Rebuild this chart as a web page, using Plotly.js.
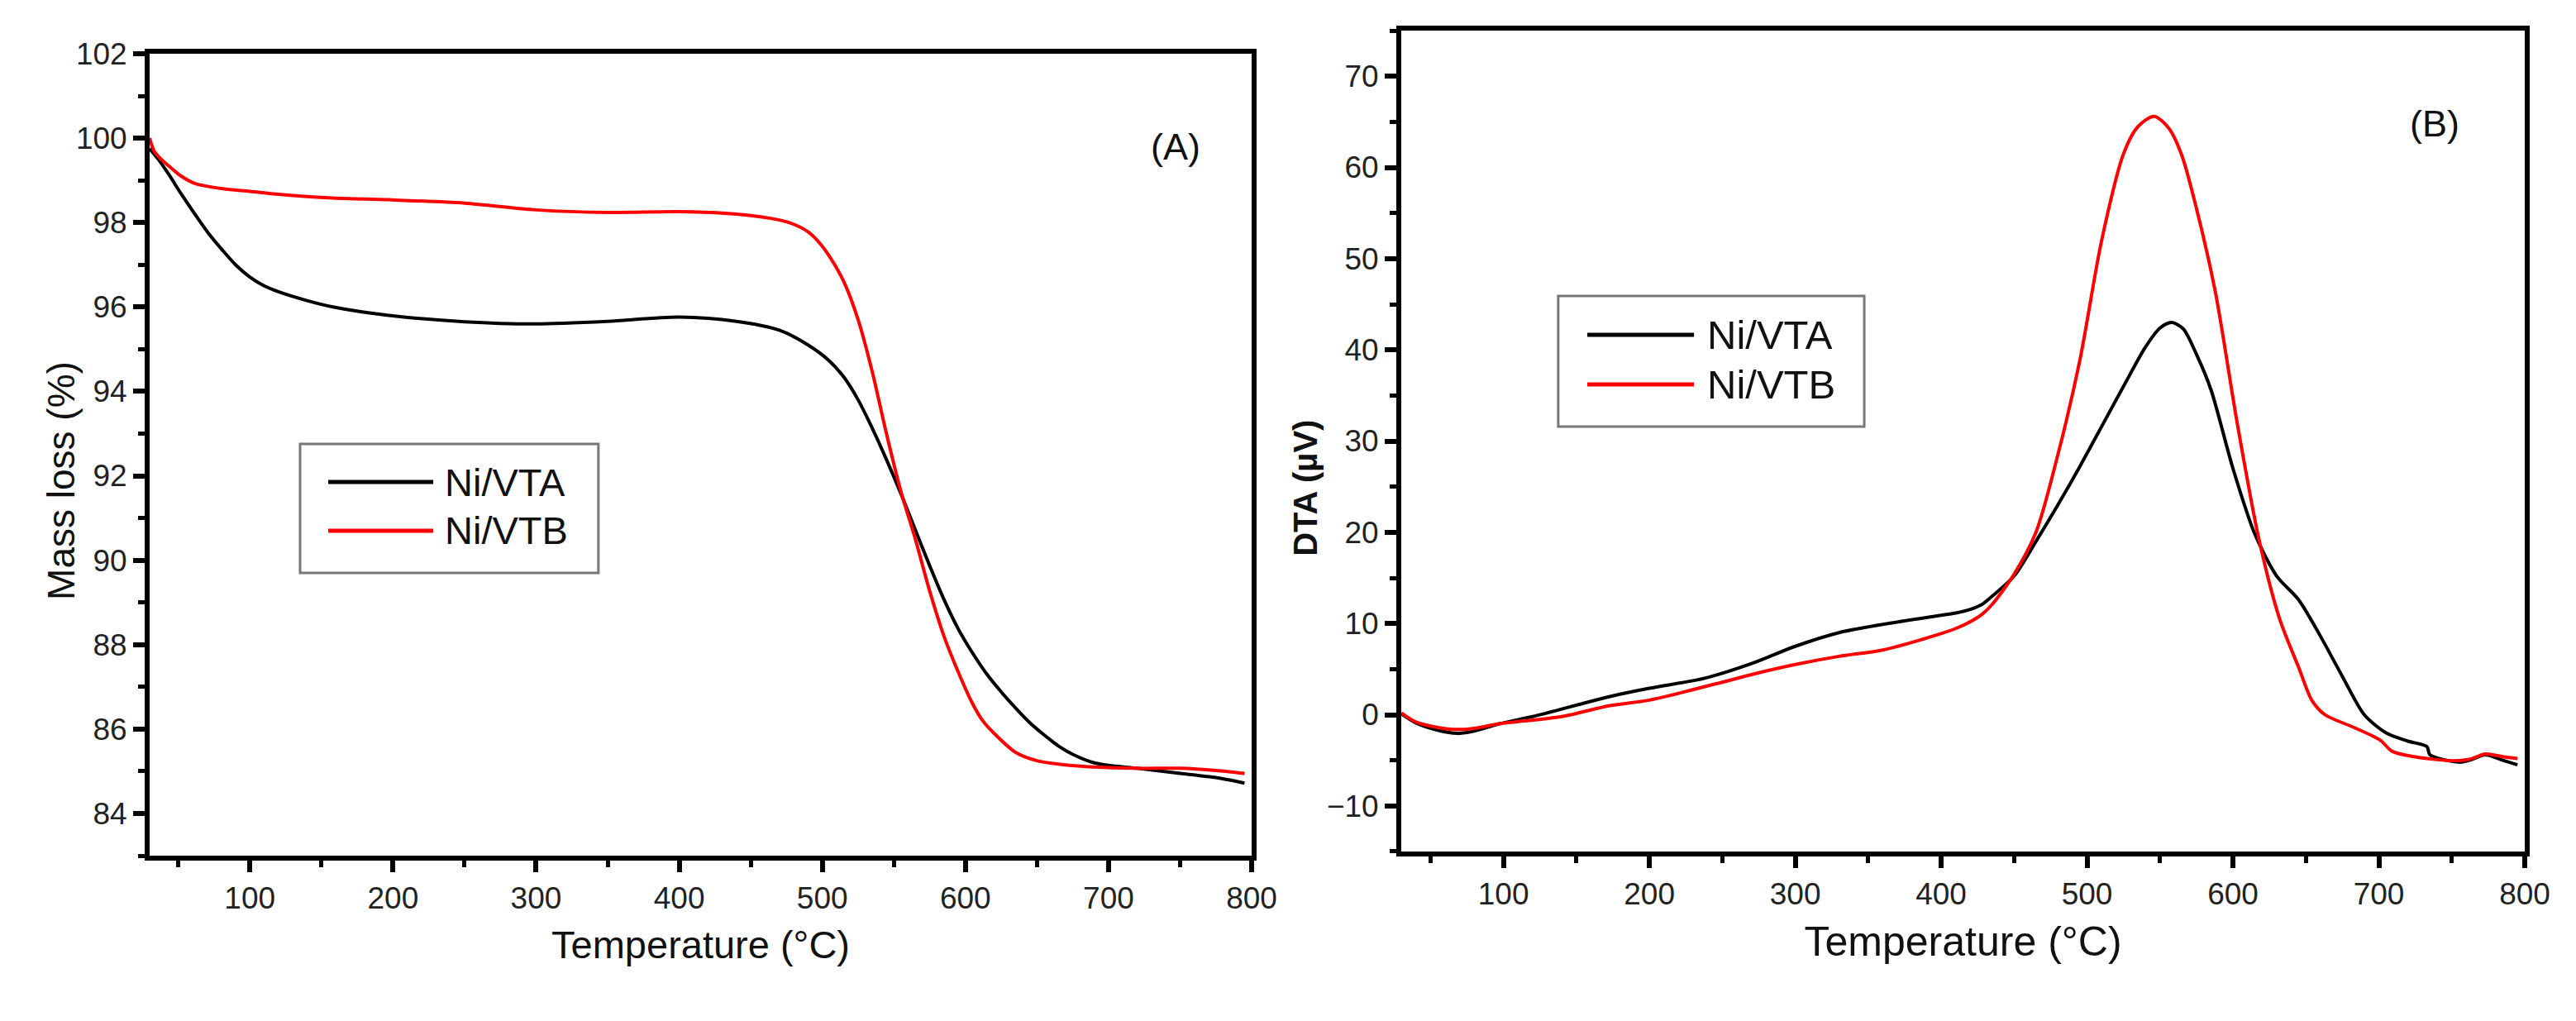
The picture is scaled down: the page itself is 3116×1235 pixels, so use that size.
<!DOCTYPE html>
<html>
<head>
<meta charset="utf-8">
<script src="https://cdn.plot.ly/plotly-3.0.1.min.js"></script>
<style>
  html, body { margin: 0; padding: 0; background: white; }
  #chart { width: 3116px; height: 1235px; }
</style>
</head>
<body>
<div id="chart"></div>
<script>
// (A) TGA - mass loss (%) vs temperature (°C)
var tempA_VTA = [30, 36, 43, 52, 62, 71, 81, 90, 100, 110, 120, 140, 158, 197, 250, 300, 350, 400, 440, 470,
                 490, 505, 515, 525, 535, 545, 555, 565, 575, 585, 595, 605, 615, 625, 635, 645, 655, 665, 675, 690,
                 705, 720, 750, 775, 795];
var massVTA = [99.75, 99.5, 99.16, 98.68, 98.18, 97.75, 97.34, 97.0, 96.71, 96.5, 96.36, 96.15, 96.0, 95.8, 95.65, 95.6, 95.66, 95.76, 95.66, 95.45,
               95.1, 94.72, 94.34, 93.8, 93.12, 92.37, 91.57, 90.72, 89.87, 89.07, 88.37, 87.8, 87.3, 86.88, 86.5, 86.15, 85.86, 85.6, 85.4, 85.2,
               85.12, 85.07, 84.95, 84.85, 84.72];

var tempA_VTB = [30, 33, 38, 43, 52, 62, 81, 100, 120, 158, 197, 250, 300, 350, 400, 440, 470, 480, 490, 498,
                 505, 515, 525, 535, 545, 555, 565, 575, 585, 595, 605, 612, 620, 635, 650, 670, 690, 720, 750, 775,
                 795];
var massVTB = [100.0, 99.7, 99.5, 99.35, 99.1, 98.92, 98.8, 98.74, 98.67, 98.58, 98.54, 98.46, 98.3, 98.24, 98.26, 98.2, 98.06, 97.96, 97.78, 97.52,
               97.2, 96.6, 95.7, 94.45, 92.97, 91.62, 90.5, 89.27, 88.2, 87.35, 86.6, 86.2, 85.9, 85.45, 85.25, 85.15, 85.1, 85.07, 85.07, 85.02,
               84.95];

// (B) DTA (µV) vs temperature (°C)
var tempB_VTA = [30, 40, 55, 68, 80, 97, 120, 173, 200, 238, 270, 300, 330, 360, 400, 410, 420, 428, 435, 450,
                 465, 480, 495, 510, 525, 540, 550, 558, 566, 575, 585, 600, 615, 630, 645, 660, 675, 690, 705, 720,
                 733, 735, 755, 762, 773, 785, 795];
var dtaVTA = [0.1, -0.9, -1.7, -2.05, -1.8, -1.0, -0.2, 2.0, 2.9, 4.0, 5.6, 7.5, 9.0, 9.9, 10.9, 11.15, 11.55, 12.1, 13.0, 15.2,
              19.0, 23.0, 27.2, 31.6, 36.0, 40.3, 42.4, 43.0, 42.3, 39.5, 35.6, 27.0, 19.8, 15.2, 12.6, 8.6, 4.2, 0.0, -2.0, -2.9,
              -3.5, -4.4, -5.2, -5.0, -4.4, -5.0, -5.5];

var tempB_VTB = [30, 40, 55, 65, 80, 97, 140, 173, 200, 246, 270, 300, 330, 360, 400, 410, 420, 428, 435, 450,
                 465, 480, 495, 510, 525, 535, 546, 556, 565, 575, 588, 603, 618, 632, 645, 654, 663, 683, 701, 709,
                 724, 750, 762, 773, 785, 795];
var dtaVTB = [0.2, -0.8, -1.4, -1.6, -1.5, -1.0, -0.2, 1.0, 1.6, 3.4, 4.4, 5.5, 6.4, 7.1, 8.9, 9.45, 10.2, 11.0, 12.1, 15.4,
              20.0, 28.5, 38.8, 52.0, 61.5, 64.5, 65.6, 64.3, 61.3, 55.5, 46.3, 31.9, 19.1, 10.5, 5.2, 1.6, 0.0, -1.4, -2.8, -4.0,
              -4.6, -5.05, -4.9, -4.3, -4.6, -4.8];

var seriesNames = ['Ni/VTA', 'Ni/VTB'];
var seriesColors = ['#000000', '#ff0000'];

var FONT = 'Liberation Sans, Arial, sans-serif';

function curve(x, y, i, xa, ya) {
    return {x: x, y: y, name: seriesNames[i], xaxis: xa, yaxis: ya, mode: 'lines',
            line: {color: seriesColors[i], width: 4, shape: 'spline', smoothing: 0.8}};
}

var data = [
    curve(tempA_VTA, massVTA, 0, 'x', 'y'),
    curve(tempA_VTB, massVTB, 1, 'x', 'y'),
    curve(tempB_VTA, dtaVTA, 0, 'x2', 'y2'),
    curve(tempB_VTB, dtaVTB, 1, 'x2', 'y2')
];

function axisStyle(extra) {
    var ax = {
        showline: true, linecolor: 'black', linewidth: 6, mirror: true,
        showgrid: false, zeroline: false,
        ticks: 'outside', ticklen: 14, tickwidth: 6, tickcolor: 'black',
        tickfont: {family: FONT, size: 37, color: '#222'}
    };
    for (var k in extra) ax[k] = extra[k];
    return ax;
}

function minorTicks(step) {
    return {ticks: 'outside', dtick: step, ticklen: 8, tickwidth: 5, tickcolor: 'black', showgrid: false};
}

// legend drawn by hand so the line samples are as long as in the figure
function legendBox(x0, x1, y0, y1, lineX0, lineX1, textX, rowsY, size) {
    var shapes = [{type: 'rect', xref: 'paper', yref: 'paper', x0: x0, x1: x1, y0: y0, y1: y1,
                   line: {color: '#777', width: 3}, fillcolor: 'white'}];
    var notes = [];
    rowsY.forEach(function (yy, i) {
        shapes.push({type: 'line', xref: 'paper', yref: 'paper', x0: lineX0, x1: lineX1, y0: yy, y1: yy,
                     line: {color: seriesColors[i], width: 5}});
        notes.push({xref: 'paper', yref: 'paper', x: textX, y: yy, xanchor: 'left', yanchor: 'middle',
                    text: seriesNames[i], showarrow: false, font: {family: FONT, size: size, color: '#111'}});
    });
    return {shapes: shapes, notes: notes};
}

var legA = legendBox(0.1165, 0.2323, 0.4389, 0.5652, 0.1274, 0.1682, 0.1720, [0.5279, 0.4802], 47);
var legB = legendBox(0.6049, 0.7237, 0.5822, 0.7101, 0.6162, 0.6576, 0.6621, [0.6721, 0.6235], 49);

var layout = {
    width: 3116,
    height: 1235,
    margin: {l: 0, r: 0, t: 0, b: 0},
    showlegend: false,
    paper_bgcolor: 'white',
    plot_bgcolor: 'white',
    xaxis: axisStyle({
        domain: [0.0581, 0.4859], range: [30, 800], tick0: 0, dtick: 100, anchor: 'y',
        minor: minorTicks(50),
        title: {text: 'Temperature (°C)', font: {family: FONT, size: 47, color: '#111'}, standoff: 22}
    }),
    yaxis: axisStyle({
        domain: [0.1619, 0.9474], range: [83, 102], tick0: 0, dtick: 2, anchor: 'x',
        minor: minorTicks(1)
    }),
    xaxis2: axisStyle({
        domain: [0.5440, 0.9801], range: [30, 800], tick0: 0, dtick: 100, anchor: 'y2',
        minor: minorTicks(50),
        title: {text: 'Temperature (°C)', font: {family: FONT, size: 50, color: '#111'}, standoff: 22}
    }),
    yaxis2: axisStyle({
        domain: [0.166, 0.970], range: [-15, 75], tick0: 0, dtick: 10, anchor: 'x2',
        minor: minorTicks(5)
    }),
    shapes: legA.shapes.concat(legB.shapes),
    annotations: [
        {xref: 'paper', yref: 'paper', x: 0.01476, y: 0.5296, text: 'Mass loss (%)', textangle: -90,
         showarrow: false, font: {family: FONT, size: 46, color: '#111'}},
        {xref: 'paper', yref: 'paper', x: 0.5067, y: 0.5223, text: '<b>DTA (µV)</b>', textangle: -90,
         showarrow: false, font: {family: FONT, size: 40, color: '#111'}},
        {xref: 'paper', yref: 'paper', x: 0.4564, y: 0.8785, text: '(A)', showarrow: false,
         font: {family: FONT, size: 45, color: '#111'}},
        {xref: 'paper', yref: 'paper', x: 0.9554, y: 0.9012, text: '(B)', showarrow: false,
         font: {family: FONT, size: 45, color: '#111'}}
    ].concat(legA.notes, legB.notes)
};

Plotly.newPlot('chart', data, layout, {displayModeBar: false, staticPlot: true});
</script>
</body>
</html>
